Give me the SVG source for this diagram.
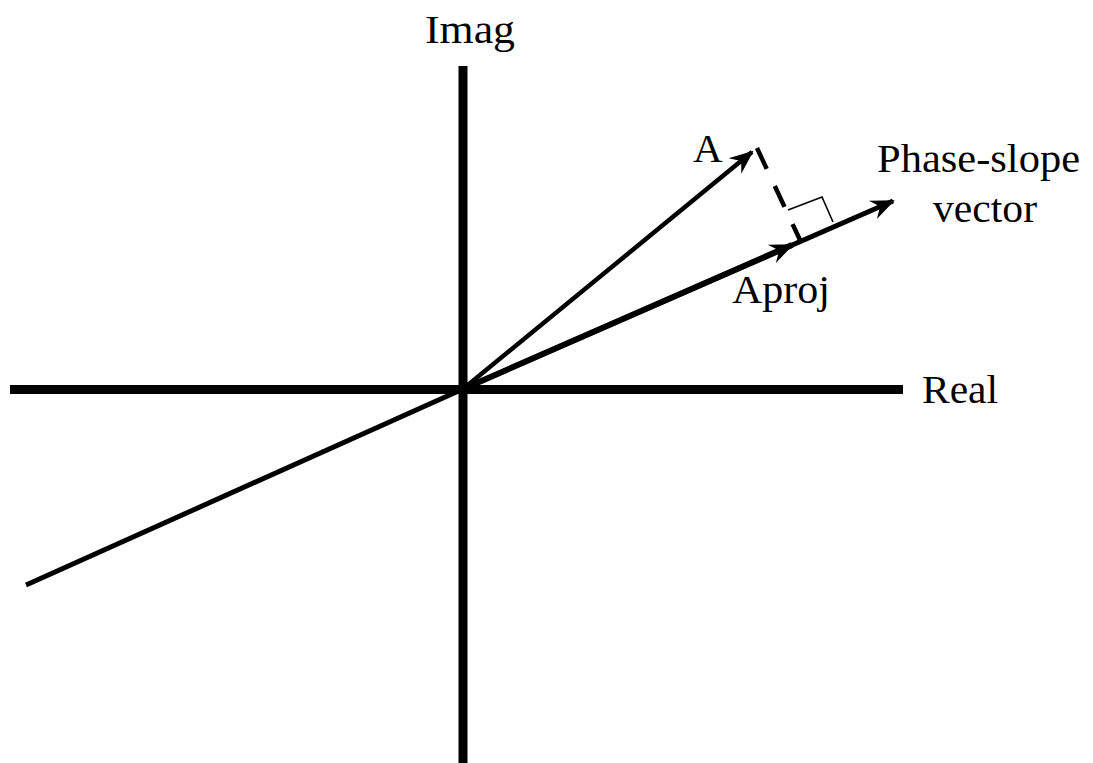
<svg xmlns="http://www.w3.org/2000/svg" width="1093" height="763" viewBox="0 0 1093 763">
<style>
.ax{stroke:#000;stroke-width:9;fill:none}
.vec{stroke:#000;fill:none;stroke-linecap:butt}
.lbl{font-family:"Liberation Serif","Times New Roman",serif;font-size:41px;fill:#000}
</style>
<defs>
<marker id="ah" markerUnits="userSpaceOnUse" markerWidth="30" markerHeight="24" refX="0" refY="0" viewBox="-26 -12 30 24" orient="auto">
<path d="M2,0 L-22,-10 L-14,0 L-22,10 Z" fill="#000"/>
</marker>
</defs>
<rect width="1093" height="763" fill="#fff"/>
<g id="axes">
<line class="ax" x1="463" y1="66" x2="463" y2="763" stroke-width="10"/>
<line class="ax" x1="10" y1="389.5" x2="903" y2="389.5"/>
</g>
<g id="connectors">
<line class="vec" x1="26" y1="585" x2="463" y2="389" stroke-width="5"/>
<line class="vec" x1="463" y1="389" x2="893" y2="201" stroke-width="5" marker-end="url(#ah)"/>
<line class="vec" x1="463" y1="389" x2="792" y2="245" stroke-width="6" marker-end="url(#ah)"/>
<line class="vec" x1="463" y1="389" x2="752" y2="152" stroke-width="4.5" marker-end="url(#ah)"/>
<line class="vec" x1="757" y1="148" x2="800" y2="240" stroke-width="4.5" stroke-dasharray="23 19"/>
<polyline points="788,210 822,197 833,222" fill="none" stroke="#000" stroke-width="1.6"/>
</g>
<g id="labels">
<text class="lbl" x="425" y="43" textLength="90" lengthAdjust="spacingAndGlyphs">Imag</text>
<text class="lbl" x="922" y="403" textLength="76" lengthAdjust="spacingAndGlyphs">Real</text>
<text class="lbl" x="693" y="162">A</text>
<text class="lbl" x="877" y="172" textLength="203" lengthAdjust="spacingAndGlyphs">Phase-slope</text>
<text class="lbl" x="933" y="222" textLength="104" lengthAdjust="spacingAndGlyphs">vector</text>
<text class="lbl" x="732" y="303" textLength="98" lengthAdjust="spacingAndGlyphs">Aproj</text>
</g>
</svg>
